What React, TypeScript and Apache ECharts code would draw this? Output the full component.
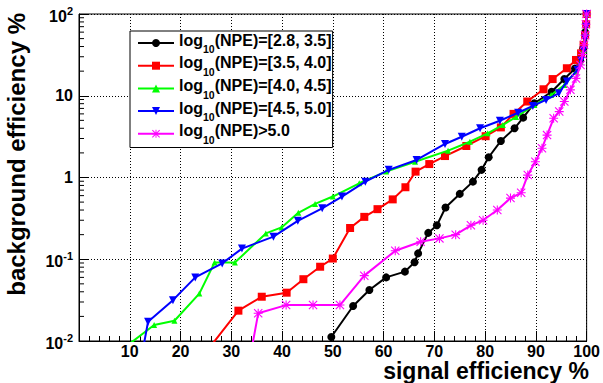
import React, { useEffect, useRef } from "react";
import * as echarts from "echarts";

const FONT = '"Liberation Sans", Arial, Helvetica, sans-serif';

const seriesNames = [
  "log10(NPE)=[2.8, 3.5]",
  "log10(NPE)=[3.5, 4.0]",
  "log10(NPE)=[4.0, 4.5]",
  "log10(NPE)=[4.5, 5.0]",
  "log10(NPE)>5.0",
];

// [signal efficiency %, background efficiency %]
const npe28to35 = [
  [49.7, 0.0112], [54.0, 0.0268], [57.2, 0.042], [60.5, 0.06], [64.2, 0.0705],
  [66.1, 0.092], [66.8, 0.118], [68.8, 0.21], [70.5, 0.26], [72.2, 0.43],
  [75.0, 0.63], [77.6, 0.89], [79.3, 1.24], [80.7, 1.77], [83.1, 2.8],
  [85.8, 4.0], [87.5, 5.4], [89.7, 8.1], [93.1, 11.2], [95.6, 16],
  [97.7, 21.5], [98.7, 27], [99.3, 38], [99.7, 60], [100, 100],
];
const npe35to40 = [
  [25.5, 0.008], [31.4, 0.0235], [36.0, 0.0348], [40.9, 0.039], [44.2, 0.057],
  [47.5, 0.081], [50.0, 0.102], [53.4, 0.241], [56.2, 0.33], [58.8, 0.41],
  [61.8, 0.54], [64.3, 0.76], [66.3, 1.18], [69.0, 1.46], [72.1, 1.83],
  [76.3, 2.43], [80.1, 3.2], [83.1, 4.1], [85.6, 6.0], [88.3, 8.5],
  [91.5, 12], [93.3, 16], [96.1, 21.7], [97.9, 27.4], [98.9, 33],
  [99.4, 42], [99.7, 55], [99.9, 75], [100, 100],
];
const npe40to45 = [
  [9.5, 0.0088], [14.8, 0.0157], [18.8, 0.0177], [23.7, 0.038], [26.7, 0.091],
  [30.7, 0.091], [36.8, 0.207], [39.9, 0.245], [43.2, 0.37], [46.5, 0.475],
  [50.0, 0.585], [55.2, 0.85], [60.5, 1.18], [66.2, 1.56], [72.7, 2.13],
  [77.0, 2.74], [80.5, 3.47], [83.5, 4.39], [86.1, 5.5], [89.7, 7.7],
  [93.0, 10.2], [95.6, 13.5], [97.9, 19.7], [98.8, 26], [99.4, 36],
  [99.8, 60], [100, 100],
];
const npe45to50 = [
  [12.6, 0.0079], [13.6, 0.0172], [18.5, 0.0316], [22.9, 0.06], [28.2, 0.089],
  [32.1, 0.135], [38.3, 0.189], [43.1, 0.295], [47.9, 0.42], [51.8, 0.585],
  [56.4, 0.89], [61.0, 1.24], [66.5, 1.64], [72.1, 2.57], [75.4, 3.15],
  [79.0, 4.0], [82.9, 4.95], [86.5, 6.2], [89.4, 7.5], [92.0, 8.9],
  [94.5, 10.7], [96.1, 14.9], [98.2, 20.7], [98.9, 27], [99.4, 36],
  [99.7, 50], [99.9, 70], [100, 100],
];
const npeAbove50 = [
  [34.0, 0.0079], [35.3, 0.0218], [40.8, 0.0275], [46.1, 0.0275], [51.4, 0.0275],
  [56.2, 0.063], [62.3, 0.127], [67.3, 0.164], [71.0, 0.18], [74.2, 0.2],
  [77.2, 0.26], [79.6, 0.3], [82.4, 0.4], [85.0, 0.56], [87.1, 0.65],
  [88.4, 1.07], [89.9, 1.56], [91.2, 2.28], [92.2, 3.3], [93.5, 5.3],
  [94.6, 6.4], [95.6, 8.5], [96.8, 11.8], [97.9, 16.3], [98.8, 23.8],
  [99.2, 32], [99.5, 42], [99.7, 55], [99.85, 75], [100, 100],
];

const xTicks = [0, 100, 10];
const yRange = [0.01, 100];
const yMinorTicks = [-2, -1, 0, 1].flatMap((e) =>
  [2, 3, 4, 5, 6, 7, 8, 9].map((d) => d * Math.pow(10, e))
);

const colors = ["#000000", "#ff0000", "#00ff00", "#0000ff", "#ff00ff"];
const ASTERISK =
  "path://M0,4.4L10,4.4L10,5.6L0,5.6Z M4.4,0L5.6,0L5.6,10L4.4,10Z M0.85,0L10,9.15L9.15,10L0,0.85Z M9.15,0L10,0.85L0.85,10L0,9.15Z";
const symbols = ["circle", "rect", "triangle", "triangle", ASTERISK];
const symbolSizes = [8, 8, 6, 8, 9];
const symbolRotates = [0, 0, 0, 180, 0];
const seriesData = [npe28to35, npe35to40, npe40to45, npe45to50, npeAbove50];

export default function App() {
  const ref = useRef<HTMLDivElement>(null);
  useEffect(() => {
    document.body.style.margin = "0";
    if (!ref.current) return;
    const chart = echarts.init(ref.current, null, { renderer: "svg" });

    const lineSeries = seriesData.map((d, i) => ({
      name: seriesNames[i],
      type: "line",
      data: d,
      symbol: symbols[i],
      symbolSize: symbolSizes[i],
      symbolRotate: symbolRotates[i],
      symbolKeepAspect: true,
      lineStyle: { color: colors[i], width: 2 },
      itemStyle: { color: colors[i] },
      clip: true,
      z: 3 + i,
    }));

    chart.setOption({
      animation: false,
      backgroundColor: "#ffffff",
      grid: {
        left: 79,
        top: 14,
        width: 510,
        height: 327,
        show: true,
        borderColor: "#000",
        borderWidth: 1,
        backgroundColor: "#fff",
      },
      legend: {
        data: seriesNames,
        orient: "vertical",
        left: 130,
        top: 31,
        itemWidth: 36,
        itemHeight: 10,
        itemGap: 0,
        padding: [1, 1, 2, 7],
        backgroundColor: "#fff",
        borderColor: "#000",
        borderWidth: 1,
        selectedMode: false,
        formatter: (name: string) =>
          "{a|log}{s|10}{a|" + name.replace("log10", "") + "}",
        textStyle: {
          color: "#000",
          fontFamily: FONT,
          fontWeight: "bold",
          fontSize: 16,
          rich: {
            a: {
              fontFamily: FONT,
              fontWeight: "bold",
              fontSize: 16,
              padding: [0, 0, 6, 0],
              color: "#000",
            },
            s: {
              fontFamily: FONT,
              fontWeight: "bold",
              fontSize: 10.5,
              padding: [12.4, 0, 0, 0],
              color: "#000",
            },
          },
        },
      },
      xAxis: {
        type: "value",
        min: xTicks[0],
        max: xTicks[1],
        interval: xTicks[2],
        axisLine: { show: true, lineStyle: { color: "#000", width: 1 } },
        axisTick: { show: true, inside: true, length: 10, lineStyle: { color: "#000" } },
        minorTick: { show: true, splitNumber: 5, length: 5, lineStyle: { color: "#000" } },
        axisLabel: {
          color: "#000",
          fontFamily: FONT,
          fontWeight: "bold",
          fontSize: 16,
          lineHeight: 14,
          margin: 3,
          formatter: (v: number) => (v === 0 ? "" : String(v)),
        },
        splitLine: { show: true, lineStyle: { color: "#000", width: 1, type: [1, 2] } },
      },
      yAxis: {
        type: "log",
        logBase: 10,
        min: yRange[0],
        max: yRange[1],
        axisLine: { show: true, lineStyle: { color: "#000", width: 1 } },
        axisTick: { show: true, inside: true, length: 10, lineStyle: { color: "#000" } },
        axisLabel: {
          color: "#000",
          fontFamily: FONT,
          fontWeight: "bold",
          fontSize: 16,
          margin: 6,
          formatter: (v: number) => {
            const e = Math.round(Math.log10(v));
            if (e === 0) return "1";
            if (e === 1) return "10";
            return "{b|10}{s|" + e + "}";
          },
          rich: {
            b: {
              fontFamily: FONT,
              fontWeight: "bold",
              fontSize: 16,
              padding: [5, 0, 0, 0],
              color: "#000",
            },
            s: {
              fontFamily: FONT,
              fontWeight: "bold",
              fontSize: 11,
              padding: [0, 0, 7, 0],
              color: "#000",
            },
          },
        },
        splitLine: { show: true, lineStyle: { color: "#000", width: 1, type: [1, 2] } },
      },
      graphic: [
        {
          type: "text",
          x: 589,
          y: 371,
          style: {
            text: "signal efficiency %",
            font: `bold 23px ${FONT}`,
            fill: "#000",
            align: "right",
            verticalAlign: "middle",
          },
          z: 10,
        },
        {
          type: "text",
          x: 16,
          y: 13,
          rotation: Math.PI / 2,
          style: {
            text: "background efficiency %",
            font: `bold 24px ${FONT}`,
            fill: "#000",
            align: "right",
            verticalAlign: "middle",
          },
          z: 10,
        },
      ],
      series: [
        ...lineSeries,
        {
          name: "minorTicks",
          type: "custom",
          data: yMinorTicks.map((v) => [0, v]),
          silent: true,
          z: 2,
          renderItem: (params: any, api: any) => {
            const p = api.coord([0, api.value(1)]);
            return {
              type: "line",
              shape: { x1: p[0], y1: p[1], x2: p[0] + 5, y2: p[1] },
              style: { stroke: "#000", lineWidth: 1 },
            };
          },
        },
      ],
    });
    return () => chart.dispose();
  }, []);
  return <div ref={ref} style={{ width: 603, height: 383 }} />;
}
